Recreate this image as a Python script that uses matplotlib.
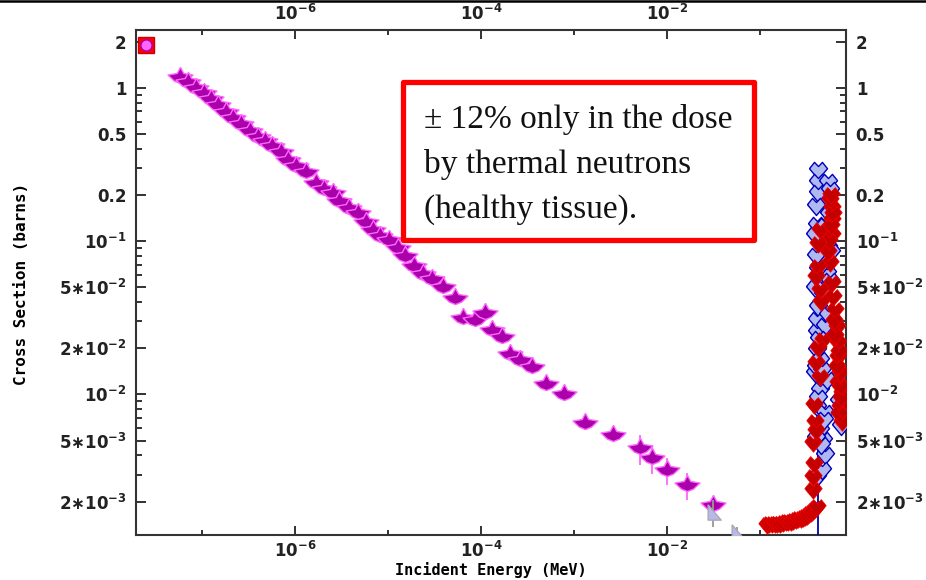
import matplotlib
matplotlib.use('Agg')
import matplotlib.pyplot as plt
from matplotlib.patches import Rectangle
from matplotlib.lines import Line2D
from matplotlib.ticker import FixedLocator, FixedFormatter, NullFormatter

# thermal point (top left)
thermal_e = [2.47e-8]
thermal_xs = [1.90]
thermal_err = [0.16]

# 1/v evaluated data (magenta)
mag_e = [5.86e-8, 7.14e-8, 8.71e-8, 1.04e-7, 1.26e-7, 1.50e-7, 1.83e-7, 2.17e-7,
         2.65e-7, 3.31e-7, 4.04e-7, 4.80e-7, 5.70e-7, 7.13e-7, 8.48e-7, 1.03e-6,
         1.32e-6, 1.69e-6, 2.06e-6, 2.58e-6, 2.99e-6, 3.83e-6, 4.79e-6, 5.83e-6,
         6.93e-6, 8.24e-6, 1.03e-5, 1.26e-5, 1.53e-5, 1.91e-5, 2.39e-5, 2.98e-5,
         3.92e-5, 5.27e-5, 6.43e-5, 8.65e-5, 1.11e-4, 1.32e-4, 1.69e-4, 2.06e-4,
         2.63e-4, 3.54e-4, 5.01e-4, 7.82e-4, 1.31e-3, 2.63e-3, 5.12e-3, 6.89e-3,
         9.98e-3, 1.64e-2, 3.11e-2]
mag_xs = [1.18, 1.09, 1.00, 0.925, 0.845, 0.773, 0.695, 0.635,
          0.581, 0.523, 0.478, 0.450, 0.418, 0.381, 0.338, 0.309,
          0.282, 0.239, 0.219, 0.206, 0.183, 0.164, 0.153, 0.133,
          0.118, 0.108, 0.1016, 0.0902, 0.0800, 0.0689, 0.0611, 0.0566,
          0.0502, 0.0426, 0.0315, 0.0306, 0.0340, 0.0264, 0.0237, 0.0183,
          0.0168, 0.0151, 0.0117, 0.01007, 0.00652, 0.00543, 0.00447, 0.00385,
          0.00321, 0.00256, 0.00190]
mag_err_pct = [3] * 43 + [8, 10, 8, 22, 22, 20, 20, 12]

# grey triangles
tri_e = [3.11e-2, 5.65e-2]
tri_xs = [1.71e-3, 1.27e-3]
tri_err = [0.35e-3, 0.10e-3]

# blue data (resonance region)
blue_e = [0.418, 0.418, 0.535, 0.418, 0.562, 0.400, 0.408, 0.535, 0.450, 0.418,
          0.388, 0.418, 0.408, 0.408, 0.408, 0.439, 0.388, 0.439, 0.408, 0.497,
          0.439, 0.473, 0.497, 0.408, 0.461, 0.500, 0.520, 0.470, 0.530, 0.400,
          0.490, 0.430, 0.520, 0.400, 0.460, 0.420, 0.480, 0.400, 0.450, 0.560,
          0.550, 0.390, 0.500, 0.570, 0.420, 0.720, 0.730, 0.700]
blue_xs = [0.291, 0.243, 0.243, 0.206, 0.216, 0.170, 0.127, 0.0916, 0.100, 0.0583,
           0.0494, 0.0372, 0.0306, 0.0256, 0.0195, 0.0168, 0.0138, 0.0107, 0.00828, 0.00757,
           0.00586, 0.00505, 0.00403, 0.00290, 0.00321, 0.075, 0.062, 0.045, 0.033, 0.080,
           0.028, 0.023, 0.0125, 0.015, 0.0145, 0.0095, 0.0068, 0.0052, 0.0047, 0.055,
           0.150, 0.110, 0.125, 0.085, 0.066, 0.0075, 0.0062, 0.0090]
blue_line_e = [0.418]
blue_line_lo = [1.2e-3]
blue_line_hi = [8.0e-3]

# red data
red_e = [0.118, 0.125, 0.133, 0.142, 0.152, 0.163, 0.175, 0.188, 0.200, 0.212,
         0.225, 0.240, 0.255, 0.270, 0.285, 0.300, 0.318, 0.335, 0.350, 0.370,
         0.390, 0.410,
         0.369, 0.369, 0.369, 0.388, 0.756, 0.719, 0.756, 0.685, 0.719, 0.439,
         0.719, 0.685, 0.685, 0.473, 0.668, 0.636, 0.605, 0.439, 0.590, 0.562,
         0.418, 0.535, 0.590, 0.439, 0.590, 0.590, 0.562, 0.580, 0.600, 0.570,
         0.550, 0.420, 0.400, 0.450, 0.620, 0.640, 0.420, 0.700, 0.660, 0.400,
         0.730, 0.380, 0.700, 0.380, 0.400]
red_xs = [1.41e-3, 1.42e-3, 1.42e-3, 1.43e-3, 1.43e-3, 1.43e-3, 1.45e-3, 1.46e-3, 1.47e-3, 1.48e-3,
          1.49e-3, 1.51e-3, 1.53e-3, 1.55e-3, 1.57e-3, 1.59e-3, 1.61e-3, 1.65e-3, 1.69e-3, 1.73e-3,
          1.78e-3, 1.85e-3,
          0.00238, 0.00290, 0.00482, 0.00661, 0.00661, 0.00828, 0.0102, 0.0119, 0.0112, 0.0130,
          0.0138, 0.0175, 0.0217, 0.0226, 0.0275, 0.0356, 0.0432, 0.0480, 0.0533, 0.0720,
          0.0678, 0.0849, 0.110, 0.118, 0.137, 0.164, 0.185, 0.200, 0.150, 0.125,
          0.100, 0.095, 0.058, 0.040, 0.030, 0.024, 0.020, 0.019, 0.015, 0.016,
          0.0095, 0.0085, 0.0075, 0.0035, 0.0058]

x_ticks = [1e-6, 1e-4, 1e-2]
x_tick_labels = [r'$10^{-6}$', r'$10^{-4}$', r'$10^{-2}$']
x_minor = [1e-7, 1e-5, 1e-3, 1e-1]
y_ticks = [2, 1, 0.5, 0.2, 0.1, 0.05, 0.02, 0.01, 0.005, 0.002]
y_tick_labels = ['2', '1', '0.5', '0.2', r'$10^{-1}$', r'$5{\ast}10^{-2}$', r'$2{\ast}10^{-2}$',
                 r'$10^{-2}$', r'$5{\ast}10^{-3}$', r'$2{\ast}10^{-3}$']
y_minor = [k * 10.0 ** n for n in (-3, -2, -1) for k in (3, 4, 6, 7, 8, 9)]

plt.rcParams['font.weight'] = 'bold'
plt.rcParams['mathtext.fontset'] = 'dejavusans'
plt.rcParams['mathtext.default'] = 'bf'

mag_marker = [(0, 0.5), (0.16, 0.2), (0.62, 0.12), (0.3, -0.18), (0, -0.3),
              (-0.3, -0.18), (-0.62, 0.12), (-0.16, 0.2), (0, 0.5)]
chev_marker = [(-0.5, 0.1), (-0.22, 0.45), (0, 0.22), (0.22, 0.45), (0.5, 0.1),
               (0, -0.5), (-0.5, 0.1)]
tri_marker = [(-0.35, 0.5), (-0.35, -0.5), (0.5, -0.5), (-0.35, 0.5)]

fig = plt.figure(figsize=(9.26, 5.8), dpi=100)
ax = fig.add_axes([136 / 926, 45 / 580, 710 / 926, 505 / 580])
ax.set_xscale('log')
ax.set_yscale('log')

# magenta series
mag_err = [x * p / 100 for x, p in zip(mag_xs, mag_err_pct)]
ax.errorbar(mag_e, mag_xs, yerr=mag_err, fmt='none', ecolor='#ff66ff', elinewidth=1.3, zorder=2)
ax.plot(mag_e, mag_xs, ls='none', marker=mag_marker, ms=18, mfc='#aa00aa', mec='#ff66ff',
        mew=1.0, zorder=3)

# grey triangles
ax.errorbar(tri_e, tri_xs, yerr=tri_err, fmt='none', ecolor='#999999', elinewidth=1.3, zorder=4)
ax.plot(tri_e, tri_xs, ls='none', marker=tri_marker, ms=11, mfc='#b8b8ee', mec='#aaaaaa',
        mew=1.0, zorder=4)

# blue and red resonance data
ax.vlines(blue_line_e, blue_line_lo, blue_line_hi, color='#0000aa', lw=1.3, zorder=5)
ax.plot(blue_e, blue_xs, ls='none', marker=chev_marker, ms=13, mfc='#b0b8f0', mec='#0000bb',
        mew=1.0, zorder=5)
ax.plot(red_e, red_xs, ls='none', marker=chev_marker, ms=12.5, mfc='#c40000', mec='#ee0000',
        mew=0.6, zorder=6)

# thermal point
ax.errorbar(thermal_e, thermal_xs, yerr=thermal_err, fmt='none', ecolor='#ff0000', elinewidth=3.5,
            zorder=6, clip_on=False)
ax.plot(thermal_e, thermal_xs, ls='none', marker='s', ms=11.5, mfc='#ff0000', mec='#cc0000',
        zorder=7, clip_on=False)
ax.plot(thermal_e, thermal_xs, ls='none', marker='o', ms=8, mfc='#ff66ff', mec='#aa00aa',
        zorder=8, clip_on=False)

ax.set_xlim(10 ** -7.71, 10 ** -0.08)
ax.set_ylim(1.21e-3, 2.38)

ax.xaxis.set_major_locator(FixedLocator(x_ticks))
ax.xaxis.set_major_formatter(FixedFormatter(x_tick_labels))
ax.xaxis.set_minor_locator(FixedLocator(x_minor))
ax.xaxis.set_minor_formatter(NullFormatter())
ax.yaxis.set_major_locator(FixedLocator(y_ticks))
ax.yaxis.set_major_formatter(FixedFormatter(y_tick_labels))
ax.yaxis.set_minor_locator(FixedLocator(y_minor))
ax.yaxis.set_minor_formatter(NullFormatter())

ax.tick_params(which='both', direction='in', top=True, right=True, labeltop=True,
               labelright=True, colors='#222222', labelsize=12, width=1.3)
ax.tick_params(axis='x', which='major', length=6.5, pad=4)
ax.tick_params(axis='x', which='minor', length=3.6)
ax.tick_params(axis='y', which='major', length=7.2, pad=7)
ax.tick_params(axis='y', which='minor', length=4)
for sp in ax.spines.values():
    sp.set_linewidth(1.5)
    sp.set_color('#333333')

fig.text(491 / 926, 1 - 570 / 580, 'Incident Energy (MeV)', ha='center', va='center',
         family='DejaVu Sans Mono', fontsize=11, fontweight='bold')
fig.text(22 / 926, 1 - 284 / 580, 'Cross Section (barns)', ha='center', va='center',
         rotation=90, family='DejaVu Sans Mono', fontsize=11.5, fontweight='bold')

# annotation box
fig.add_artist(Rectangle((403 / 926, 1 - 240 / 580), 351 / 926, 158 / 580,
                         transform=fig.transFigure, facecolor='white', edgecolor='#ff0000',
                         lw=3.8, joinstyle='round', zorder=10))
box_lines = ['\u00b1 12% only in the dose', 'by thermal neutrons', '(healthy tissue).']
for i, line in enumerate(box_lines):
    fig.text(424 / 926, 1 - (128 + 45 * i) / 580, line, ha='left', va='baseline',
             family='Liberation Serif', fontweight='normal', fontsize=24, color='#111111',
             zorder=11)

fig.add_artist(Line2D([0, 1], [1 - 1 / 580, 1 - 1 / 580], transform=fig.transFigure,
                      color='black', lw=1.8))

fig.savefig('out.png', dpi=100)
